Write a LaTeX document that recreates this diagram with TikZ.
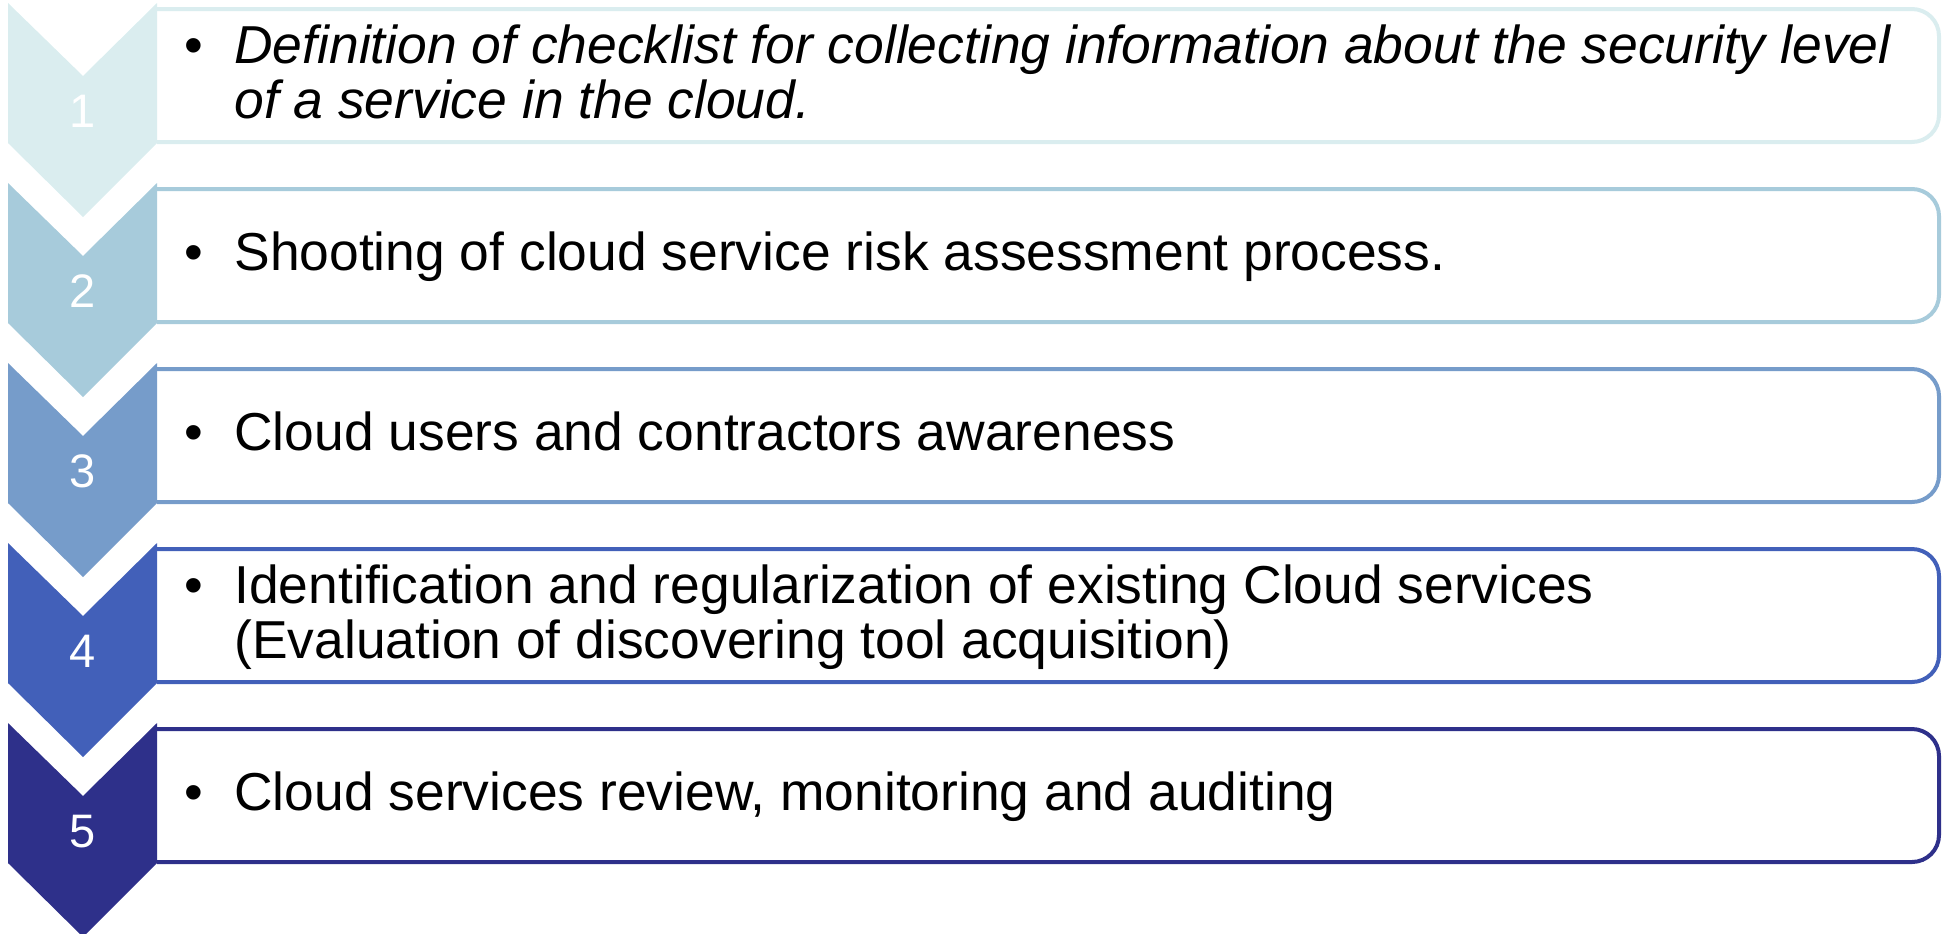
\documentclass[tikz,border=0pt]{standalone}
\usepackage{fontspec}
\setmainfont{Liberation Sans}
\definecolor{c1}{HTML}{DAEDEF}
\definecolor{c2}{HTML}{A7CBDB}
\definecolor{c3}{HTML}{769CCA}
\definecolor{c4}{HTML}{4260B9}
\definecolor{c5}{HTML}{2E308A}
\tikzset{
  chev/.style={fill=#1, draw=none},
  stepbox/.style={draw=#1, line width=2pt, rounded corners=13.5pt, fill=white},
  num/.style={text=white, font=\fontsize{23.5}{28}\selectfont, inner sep=0pt, anchor=base},
  txt/.style={font=\fontsize{26.7}{31}\selectfont, inner sep=0pt, anchor=base west},
  bul/.style={font=\fontsize{26.7}{31}\selectfont, inner sep=0pt, anchor=base},
}
\begin{document}
\begin{tikzpicture}[x=0.5pt,y=-0.5pt]
\useasboundingbox (0,0) rectangle (1949,933);
\clip (0,0) rectangle (1949,933);
\foreach \k/\c in {0/c1,1/c2,2/c3,3/c4,4/c5}{
  \pgfmathsetmacro{\dy}{180*\k}
  \draw[stepbox=\c] (157,9+\dy) -- (1939,9+\dy) -- (1939,142+\dy) -- (157,142+\dy);
  \fill[chev=\c] (8,3+\dy) -- (83,76+\dy) -- (157,3+\dy) -- (157,143+\dy) -- (83,217+\dy) -- (8,143+\dy) -- cycle;
}
\node[num] (n1) at (83,127) {1};
\node[num] (n2) at (83,307) {2};
\node[num] (n3) at (83,487) {3};
\node[num] (n4) at (83,667) {4};
\node[num] (n5) at (83,847) {5};
\node[bul] (b1) at (194,63) {\textbullet};
\node[txt] (t1a) at (234,63) {\itshape Definition of checklist for collecting information about the security level};
\node[txt] (t1b) at (234,118) {\itshape of a service in the cloud.};
\node[bul] (b2) at (194,270) {\textbullet};
\node[txt] (t2) at (234,270) {Shooting of cloud service risk assessment process.};
\node[bul] (b3) at (194,450) {\textbullet};
\node[txt] (t3) at (234,450) {Cloud users and contractors awareness};
\node[bul] (b4) at (194,603) {\textbullet};
\node[txt] (t4a) at (234,603) {Identification and regularization of existing Cloud services};
\node[txt] (t4b) at (234,658) {(Evaluation of discovering tool acquisition)};
\node[bul] (b5) at (194,810) {\textbullet};
\node[txt] (t5) at (234,810) {Cloud services review, monitoring and auditing};
\end{tikzpicture}
\end{document}
